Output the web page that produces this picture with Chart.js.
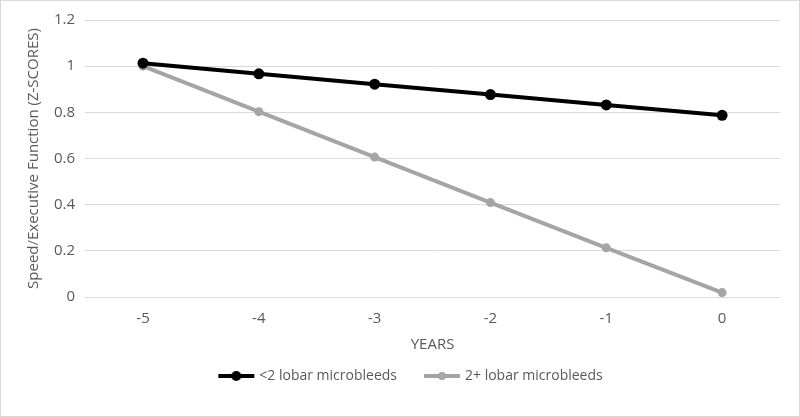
<!DOCTYPE html>
<html>
<head>
<meta charset="utf-8">
<script src="https://cdn.jsdelivr.net/npm/chart.js@4"></script>
<style>
  body { margin: 0; background: #fff; }
  #wrap { width: 798px; height: 415px; border: 1px solid #d9d9d9; }
</style>
</head>
<body>
<div id="wrap"><canvas id="myChart" width="798" height="415"></canvas></div>
<script>
"use strict";

let labels = ["-5", "-4", "-3", "-2", "-1", "0"];
let lowBleeds = [1.013, 0.967, 0.922, 0.877, 0.832, 0.787];
let highBleeds = [1.0, 0.803, 0.606, 0.409, 0.213, 0.019];
let seriesNames = ["<2 lobar microbleeds", "2+ lobar microbleeds"];
let yTicks = { min: 0, max: 1.2, step: 0.2 };

const textColor = "#595959";
const font = "'Open Sans', 'Liberation Sans', sans-serif";
const fsize = 15;

// line+dot marker for the legend (blank strip on the left makes the gap between items)
function legendMarker(color, r) {
  const c = document.createElement("canvas");
  c.width = 56;
  c.height = 12;
  const g = c.getContext("2d");
  g.strokeStyle = color;
  g.lineWidth = 4;
  g.beginPath();
  g.moveTo(19, 6);
  g.lineTo(55, 6);
  g.stroke();
  g.fillStyle = color;
  g.beginPath();
  g.arc(37, 6, r, 0, Math.PI * 2);
  g.fill();
  return c;
}

const markers = [legendMarker("#000000", 5), legendMarker("#a5a5a5", 4)];

const ctx = document.getElementById("myChart");

new Chart(ctx, {
  type: "line",
  data: {
    labels: labels,
    datasets: [
      {
        label: seriesNames[0],
        data: lowBleeds,
        borderColor: "#000000",
        backgroundColor: "#000000",
        borderWidth: 4,
        pointRadius: 5.5,
        pointBorderWidth: 0,
        pointHoverRadius: 5.5,
      },
      {
        label: seriesNames[1],
        data: highBleeds,
        borderColor: "#a5a5a5",
        backgroundColor: "#a5a5a5",
        borderWidth: 4,
        pointRadius: 4.5,
        pointBorderWidth: 0,
        pointHoverRadius: 4.5,
      },
    ],
  },
  options: {
    responsive: false,
    animation: false,
    layout: { padding: { top: 0, right: 19, left: 24, bottom: 23 } },
    plugins: {
      tooltip: { enabled: false },
      legend: {
        position: "bottom",
        labels: {
          usePointStyle: true,
          pointStyleWidth: 50,
          color: textColor,
          font: { family: font, size: 14 },
          padding: 11,
          generateLabels: function (chart) {
            const items = Chart.defaults.plugins.legend.labels.generateLabels(chart);
            items.forEach(function (it, i) {
              it.pointStyle = markers[i];
            });
            return items;
          },
        },
      },
    },
    scales: {
      x: {
        offset: true,
        grid: { display: false },
        border: { display: false },
        ticks: { color: textColor, font: { family: font, size: fsize }, padding: 5 },
        title: {
          display: true,
          text: "YEARS",
          color: textColor,
          font: { family: font, size: fsize },
          padding: { top: 3, bottom: 4 },
        },
      },
      y: {
        min: yTicks.min,
        max: yTicks.max,
        border: { display: false },
        grid: { color: "#d9d9d9", lineWidth: 1, drawTicks: false },
        ticks: {
          stepSize: yTicks.step,
          color: textColor,
          font: { family: font, size: fsize },
          padding: 10,
          callback: function (v) {
            return String(Math.round(v * 10) / 10);
          },
        },
        title: {
          display: true,
          text: "Speed/Executive Function (Z-SCORES)",
          color: textColor,
          font: { family: font, size: fsize },
          padding: { top: 0, bottom: 1 },
        },
      },
    },
  },
});
</script>
</body>
</html>
